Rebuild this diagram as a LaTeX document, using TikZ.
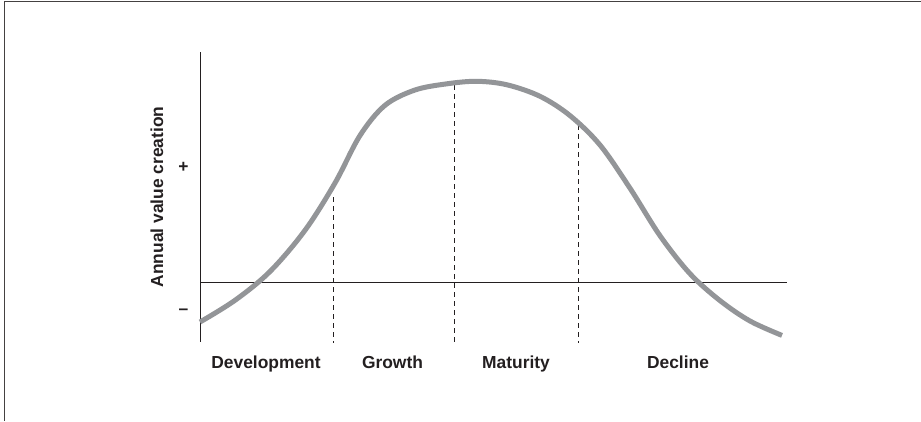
\documentclass[tikz,border=0pt]{standalone}
\usepackage{fontspec}
\setmainfont{Liberation Sans}
\definecolor{ink}{HTML}{231F20}
\definecolor{curvegray}{HTML}{939598}
\begin{document}
\begin{tikzpicture}[x=1bp,y=-1bp,
  frame/.style={draw=ink!85,line width=1.4bp},
  axisline/.style={draw=ink,line width=0.9bp},
  divider/.style={draw=ink,line width=0.8bp,dash pattern=on 5bp off 4bp},
  lifecurve/.style={draw=curvegray,line width=5bp},
  stagelabel/.style={font=\fontsize{17.4bp}{20bp}\selectfont\bfseries,text=ink,inner sep=0pt,anchor=base},
  signlabel/.style={font=\fontsize{17.4bp}{20bp}\selectfont\bfseries,text=ink,inner sep=0pt,anchor=center}]
\useasboundingbox (0,0) rectangle (921,421);
\fill[white] (0,0) rectangle (921,421);
% frame (top and left edges)
\coordinate (fTL) at (4.5,1.5);
\coordinate (fTR) at (921,1.5);
\coordinate (fBL) at (4.5,421);
\draw[frame] (fTR) -- (fTL) -- (fBL);
% axes
\coordinate (yTop) at (200,52);
\coordinate (yBot) at (200,342);
\coordinate (hL) at (200,282);
\coordinate (hR) at (787,282);
\draw[axisline] (yTop) -- (yBot);
\draw[axisline] (hL) -- (hR);
% dashed stage dividers
\coordinate (d1t) at (333,197); \coordinate (d1b) at (333,343);
\coordinate (d2t) at (454,85);  \coordinate (d2b) at (454,343);
\coordinate (d3t) at (578.5,125); \coordinate (d3b) at (578.5,343);
\draw[divider] (d1t) -- (d1b);
\draw[divider] (d2t) -- (d2b);
\draw[divider] (d3t) -- (d3b);
% life-cycle curve
\draw[lifecurve] plot[smooth,tension=0.55] coordinates {
  (200,322) (235,300.3) (270,271.5) (305,230.3) (335,183) (360,135.5)
  (385,105.3) (415,90) (447,83.8) (477,81.3) (507,84.8) (540,96.3)
  (570,115.6) (600,145) (630,188.2) (660,235.7) (690,273.7) (720,300.6)
  (750,321) (782,335.4)};
% labels
\node[stagelabel] (dev) at (266,368.5) {Development};
\node[stagelabel] (gro) at (392.5,368.5) {Growth};
\node[stagelabel] (mat) at (516,368.5) {Maturity};
\node[stagelabel] (dec) at (678,368.5) {Decline};
\node[signlabel,rotate=90] (ylab) at (157,197) {Annual value creation};
\node[signlabel] (plus) at (183.5,167) {+};
\node[signlabel] (minus) at (183.5,312) {–};
\end{tikzpicture}
\end{document}
